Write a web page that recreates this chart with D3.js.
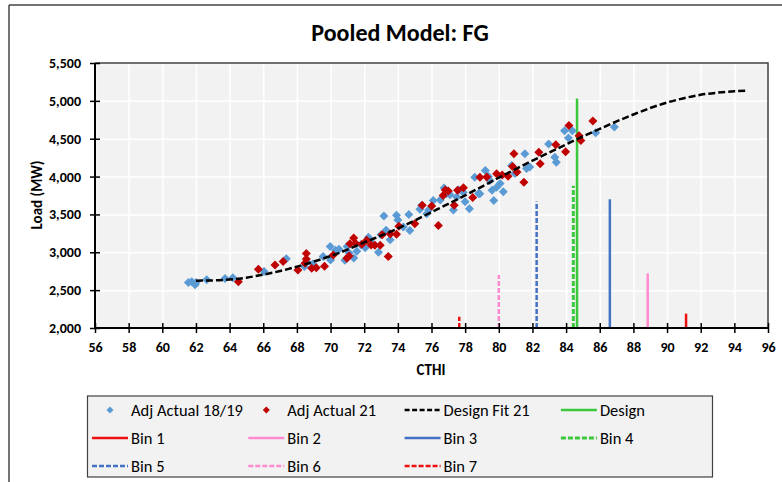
<!DOCTYPE html>
<html>
<head>
<meta charset="utf-8">
<script src="https://cdn.jsdelivr.net/npm/d3@7"></script>
<style>
  body { margin: 0; background: #fff; }
  svg text { font-family: Carlito, Calibri, Lato, "Open Sans", sans-serif; fill: #000; }
</style>
</head>
<body>
<svg width="782" height="482"></svg>
<script>
// Adj Actual 18/19 (blue)
var blueX = [61.55, 61.75, 61.95, 62.0, 62.64, 63.73, 64.19, 66.05, 67.37, 68.45, 68.57, 68.95, 69.56, 69.98, 70.0, 70.3, 70.5, 70.85, 70.98, 71.1, 71.38, 71.56, 71.8, 72.06, 72.25, 72.5, 72.85, 73.0, 73.17, 73.3, 73.54, 73.92, 74.0, 74.32, 74.65, 74.71, 75.31, 75.41, 75.72, 75.83, 76.1, 76.52, 76.75, 76.89, 77.1, 77.3, 77.5, 77.61, 77.88, 78.0, 78.25, 78.57, 78.8, 78.87, 79.2, 79.38, 79.47, 79.6, 79.7, 79.88, 80.08, 80.27, 80.76, 80.96, 81.55, 81.65, 81.84, 82.96, 83.33, 83.42, 83.91, 84.14, 84.37, 85.76, 86.87];
var blueY = [2600, 2610, 2570, 2600, 2636, 2655, 2665, 2745, 2915, 2811, 2873, 2845, 2945, 3075, 2899, 3026, 3040, 2895, 3075, 2990, 2925, 3015, 3100, 3060, 3200, 3120, 3000, 3230, 3480, 3290, 3165, 3490, 3425, 3333, 3500, 3289, 3570, 3618, 3509, 3559, 3684, 3690, 3850, 3772, 3760, 3560, 3730, 3821, 3794, 3668, 3575, 3991, 3777, 3772, 4080, 4000, 3947, 3820, 3684, 3860, 3908, 3799, 4145, 4040, 4300, 4105, 4125, 4430, 4256, 4190, 4606, 4508, 4606, 4578, 4655];

// Adj Actual 21 (red)
var redX = [64.52, 65.71, 66.7, 67.18, 68.06, 68.56, 68.56, 68.48, 68.88, 69.15, 69.64, 70.16, 70.97, 71.1, 71.15, 71.38, 71.48, 71.86, 72.15, 72.41, 72.63, 72.95, 73.07, 73.43, 73.55, 73.92, 74.06, 75.01, 75.45, 76.01, 76.41, 76.69, 76.82, 77.0, 77.35, 77.55, 77.9, 78.45, 78.88, 79.28, 79.87, 80.2, 80.55, 80.82, 80.9, 81.08, 81.49, 82.38, 82.46, 83.39, 83.97, 84.17, 84.77, 84.88, 85.59];
var redY = [2612, 2775, 2832, 2877, 2767, 2985, 2910, 2855, 2789, 2795, 2815, 2963, 2921, 2950, 3114, 3190, 3118, 3105, 3160, 3096, 3092, 3094, 3230, 2945, 3240, 3237, 3345, 3377, 3620, 3610, 3354, 3750, 3821, 3808, 3621, 3818, 3854, 3722, 3990, 3993, 4037, 4020, 4004, 4132, 4300, 4059, 3924, 4321, 4168, 4420, 4328, 4676, 4540, 4475, 4733];

// Design Fit 21
var fitX = [62, 63, 64, 65, 66, 67, 68, 69, 70, 71, 72, 73, 74, 75, 76, 77, 78, 79, 80, 81, 82, 83, 84, 85, 86, 87, 88, 89, 90, 91, 92, 93, 94, 94.8];
var fitY = [2625, 2628, 2640, 2665, 2705, 2752, 2810, 2877, 2950, 3035, 3130, 3220, 3315, 3420, 3530, 3640, 3752, 3868, 3985, 4098, 4210, 4318, 4425, 4530, 4630, 4728, 4820, 4905, 4978, 5035, 5080, 5108, 5126, 5133];

// vertical markers: name, CTHI, top load
var binNames = ["Design", "Bin 1", "Bin 2", "Bin 3", "Bin 4", "Bin 5", "Bin 6", "Bin 7"];
var binX = [84.65, 91.13, 88.85, 86.6, 84.43, 82.25, 80.0, 77.65];
var binTop = [5030, 2190, 2720, 3700, 3880, 3670, 2700, 2150];

var xTicks = d3.range(56, 97, 2);
var yTicks = d3.range(2000, 5501, 500);

var styles = {
  "Design": { color: "#3cc83c", width: 2.5, dash: null },
  "Bin 1": { color: "#ee1111", width: 2.5, dash: null },
  "Bin 2": { color: "#ff8ad0", width: 2.5, dash: null },
  "Bin 3": { color: "#4472c4", width: 2.5, dash: null },
  "Bin 4": { color: "#3cc83c", width: 3, dash: "5,2" },
  "Bin 5": { color: "#4472c4", width: 2.5, dash: "5,2" },
  "Bin 6": { color: "#ff8ad0", width: 2.5, dash: "5,2" },
  "Bin 7": { color: "#ee1111", width: 2.5, dash: "5,2" }
};

var svg = d3.select("svg");
var x = d3.scaleLinear().domain([56, 96]).range([95, 768]);
var y = d3.scaleLinear().domain([2000, 5500]).range([328, 63]);

function diamond(r) {
  return "M0," + (-r) + "L" + r + ",0L0," + r + "L" + (-r) + ",0Z";
}

// outer frame
svg.append("line").attr("x1", 9).attr("x2", 782).attr("y1", 5).attr("y2", 5).style("stroke", "#444").style("stroke-width", 1.5);
svg.append("line").attr("x1", 9).attr("x2", 9).attr("y1", 5).attr("y2", 482).style("stroke", "#444").style("stroke-width", 1.5);

svg.append("text").attr("x", 400).attr("y", 41).attr("text-anchor", "middle")
  .style("font-size", "24px").style("font-weight", "bold").text("Pooled Model: FG");

// plot background
svg.append("rect").attr("x", 95).attr("y", 63).attr("width", 673).attr("height", 265).style("fill", "#f2f2f2");

// grid
svg.append("g").attr("transform", "translate(0,328)")
  .call(d3.axisBottom(x).tickValues(xTicks).tickSize(-265).tickFormat(""))
  .call(function (g) { g.select(".domain").remove(); })
  .selectAll("line").style("stroke", "#fff").style("stroke-width", 1.5);
svg.append("g").attr("transform", "translate(95,0)")
  .call(d3.axisLeft(y).tickValues(yTicks).tickSize(-673).tickFormat(""))
  .call(function (g) { g.select(".domain").remove(); })
  .selectAll("line").style("stroke", "#fff").style("stroke-width", 1.5);

// top / right border
svg.append("path").attr("d", "M95,63H768V328").style("fill", "none").style("stroke", "#404040").style("stroke-width", 1.5);

// bins
var binG = svg.append("g");
binNames.forEach(function (n, i) {
  var s = styles[n];
  binG.append("line").attr("x1", x(binX[i])).attr("x2", x(binX[i]))
    .attr("y1", y(2000)).attr("y2", y(binTop[i]))
    .style("stroke", s.color).style("stroke-width", s.width)
    .style("stroke-dasharray", s.dash);
});

// scatter
var blue = blueX.map(function (v, i) { return [v, blueY[i]]; });
var red = redX.map(function (v, i) { return [v, redY[i]]; });
svg.append("g").selectAll("path").data(blue).enter().append("path")
  .attr("d", diamond(4.5))
  .attr("transform", function (d) { return "translate(" + x(d[0]) + "," + y(d[1]) + ")"; })
  .style("fill", "#5b9bd5");
svg.append("g").selectAll("path").data(red).enter().append("path")
  .attr("d", diamond(4.5))
  .attr("transform", function (d) { return "translate(" + x(d[0]) + "," + y(d[1]) + ")"; })
  .style("fill", "#c00000");

// fit
var fit = fitX.map(function (v, i) { return [v, fitY[i]]; });
svg.append("path").datum(fit)
  .attr("d", d3.line().x(function (d) { return x(d[0]); }).y(function (d) { return y(d[1]); }).curve(d3.curveMonotoneX))
  .style("fill", "none").style("stroke", "#000").style("stroke-width", 2.5).style("stroke-dasharray", "7,3");

// axes
var xAxis = svg.append("g").attr("transform", "translate(0,328)")
  .call(d3.axisBottom(x).tickValues(xTicks).tickSize(5).tickPadding(9));
xAxis.selectAll(".tick line").attr("y1", -5).style("stroke", "#000").style("stroke-width", 1.5);
xAxis.select(".domain").attr("d", "M95,0H768").style("stroke", "#000").style("stroke-width", 2);
xAxis.selectAll("text").style("font-size", "14px").style("font-weight", "bold");

var yAxis = svg.append("g").attr("transform", "translate(95,0)")
  .call(d3.axisLeft(y).tickValues(yTicks).tickSize(5).tickPadding(9).tickFormat(d3.format(",")));
yAxis.selectAll(".tick line").attr("x1", 5).style("stroke", "#000").style("stroke-width", 1.5);
yAxis.select(".domain").attr("d", "M0,63V328").style("stroke", "#000").style("stroke-width", 2);
yAxis.selectAll("text").style("font-size", "14px").style("font-weight", "bold");

svg.append("text").attr("x", 431).attr("y", 375).attr("text-anchor", "middle")
  .style("font-size", "15px").style("font-weight", "bold").text("CTHI");
svg.append("text").attr("transform", "translate(42,195) rotate(-90)").attr("text-anchor", "middle")
  .style("font-size", "15px").style("font-weight", "bold").text("Load (MW)");

// legend
var legendNames = ["Adj Actual 18/19", "Adj Actual 21", "Design Fit 21", "Design", "Bin 1", "Bin 2", "Bin 3", "Bin 4", "Bin 5", "Bin 6", "Bin 7"];
svg.append("rect").attr("x", 87.5).attr("y", 396).attr("width", 625).attr("height", 81)
  .style("fill", "#f2f2f2").style("stroke", "#404040").style("stroke-width", 1.2);
var lg = svg.append("g");
legendNames.forEach(function (n, i) {
  var col = i % 4, row = Math.floor(i / 4);
  var tx = 131 + col * 156.3, ty = 410 + row * 28;
  var g = lg.append("g");
  if (n === "Adj Actual 18/19" || n === "Adj Actual 21") {
    g.append("path").attr("d", diamond(3.5)).attr("transform", "translate(" + (tx - 21) + "," + ty + ")")
      .style("fill", n === "Adj Actual 21" ? "#c00000" : "#5b9bd5");
  } else {
    var s = n === "Design Fit 21" ? { color: "#000", width: 2.5, dash: "5,2.5" } : styles[n];
    g.append("line").attr("x1", tx - 39).attr("x2", tx - 3).attr("y1", ty).attr("y2", ty)
      .style("stroke", s.color).style("stroke-width", s.width).style("stroke-dasharray", s.dash);
  }
  g.append("text").attr("x", tx).attr("y", ty).attr("dy", "0.35em").style("font-size", "16.5px").text(n);
});
</script>
</body>
</html>
